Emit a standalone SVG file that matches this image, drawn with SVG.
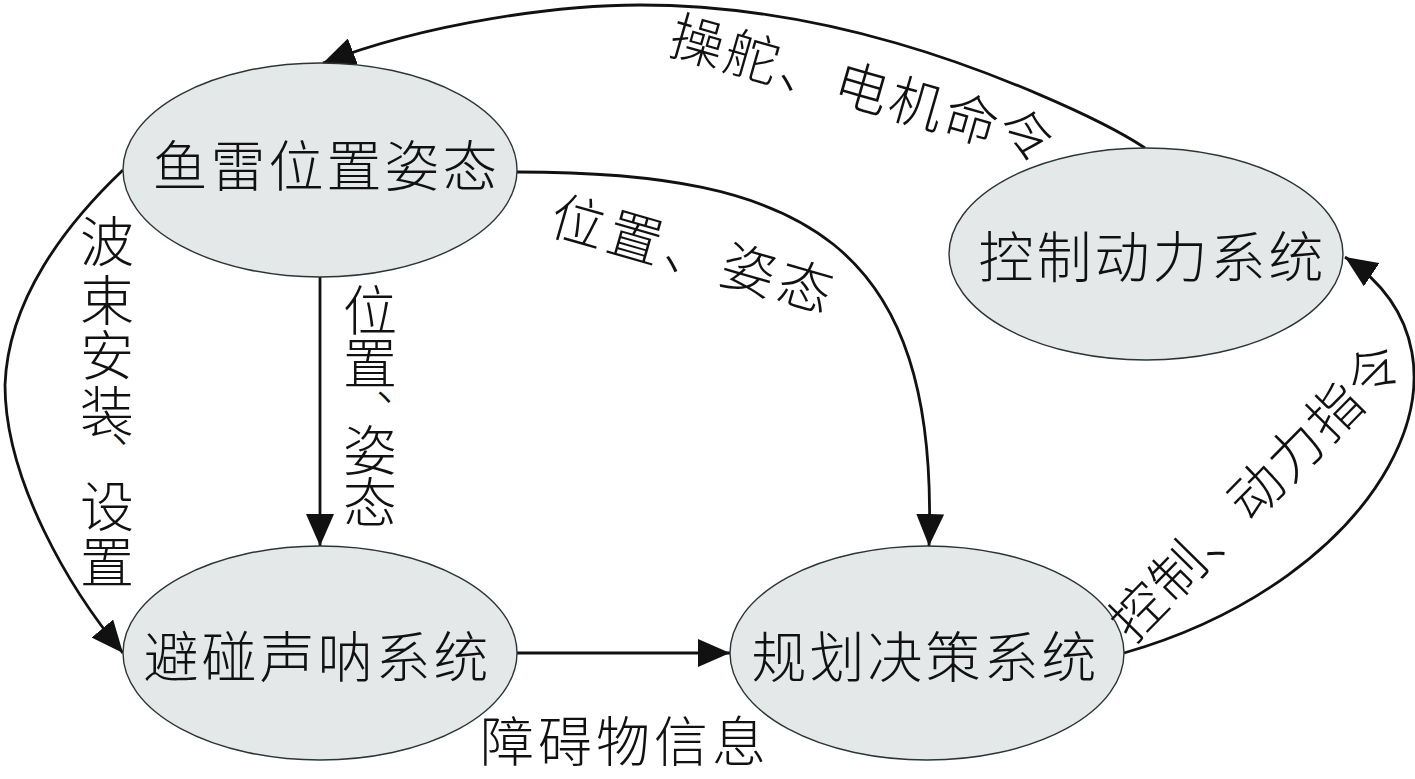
<svg xmlns="http://www.w3.org/2000/svg" width="1415" height="779" viewBox="0 0 1415 779">
<style>
.node ellipse{fill:#e4e8e9;stroke:#2b3535;stroke-width:1.4}
.t{font-family:"Noto Sans CJK SC","Noto Sans CJK JP",sans-serif;font-size:54px;fill:#111;font-weight:300}
.nt{font-size:55px;letter-spacing:3px;text-anchor:middle}
.p{font-size:44px}
.edge{fill:none;stroke:#111;stroke-width:2.8;marker-end:url(#ah)}
</style>
<defs>
<marker id="ah" viewBox="0 0 32 28" refX="32" refY="14" markerUnits="userSpaceOnUse" markerWidth="32" markerHeight="28" orient="auto">
<path d="M0,0 L32,14 L0,28 Z" fill="#111"/>
</marker>
</defs>
<rect width="1415" height="779" fill="#fff"/>
<g id="connectors">
<path class="edge" d="M1145,148 C1100,118 990,70 896,43 C802,16 720,5 640,5 C560,5 430,22 323,63"/>
<path class="edge" d="M320,277 L320,546"/>
<path class="edge" d="M517,172 C800,172 940,240 929,546"/>
<path class="edge" d="M517,653 L730,653"/>
<path class="edge" d="M1124,653 C1380,580 1500,360 1345,257"/>
<path class="edge" d="M123,170 C65,225 8,300 5,385 C5,480 70,590 123,653"/>
</g>
<g id="node-yulei" class="node">
<ellipse cx="320" cy="170" rx="197" ry="107"/>
<text class="t nt" x="326.5" y="186">鱼雷位置姿态</text>
</g>
<g id="node-kongzhi" class="node">
<ellipse cx="1146" cy="254" rx="197" ry="106"/>
<text class="t nt" x="1152.5" y="277">控制动力系统</text>
</g>
<g id="node-bipeng" class="node">
<ellipse cx="320" cy="653" rx="197" ry="107"/>
<text class="t nt" x="317.5" y="677">避碰声呐系统</text>
</g>
<g id="node-guihua" class="node">
<ellipse cx="927" cy="653" rx="197" ry="107"/>
<text class="t nt" x="925.5" y="677">规划决策系统</text>
</g>
<g id="labels">
<text class="t" transform="translate(863.5,88) rotate(16)" x="0" y="20.5" text-anchor="middle" letter-spacing="3">操舵、电机命令</text>
<text class="t" transform="translate(694.5,254) rotate(16)" x="0" y="20.5" text-anchor="middle" letter-spacing="5">位置、姿态</text>
<text class="t" transform="translate(1256,490) rotate(-45.5)" x="0" y="20.5" text-anchor="middle" letter-spacing="2">控制、动力指令</text>
<text class="t" x="625" y="761.5" text-anchor="middle" letter-spacing="4">障碍物信息</text>
<text class="t"><tspan x="107" y="262" text-anchor="middle">波</tspan><tspan x="107" y="320.5" text-anchor="middle">束</tspan><tspan x="107" y="375.5" text-anchor="middle">安</tspan><tspan x="107" y="432" text-anchor="middle">装</tspan><tspan class="p" x="111" y="443" text-anchor="start">、</tspan><tspan x="107" y="527" text-anchor="middle">设</tspan><tspan x="107" y="582.5" text-anchor="middle">置</tspan></text>
<text class="t"><tspan x="370" y="330.5" text-anchor="middle">位</tspan><tspan x="370" y="384" text-anchor="middle">置</tspan><tspan class="p" x="376" y="401" text-anchor="start">、</tspan><tspan x="370" y="470.5" text-anchor="middle">姿</tspan><tspan x="370" y="523" text-anchor="middle">态</tspan></text>
</g>
</svg>
